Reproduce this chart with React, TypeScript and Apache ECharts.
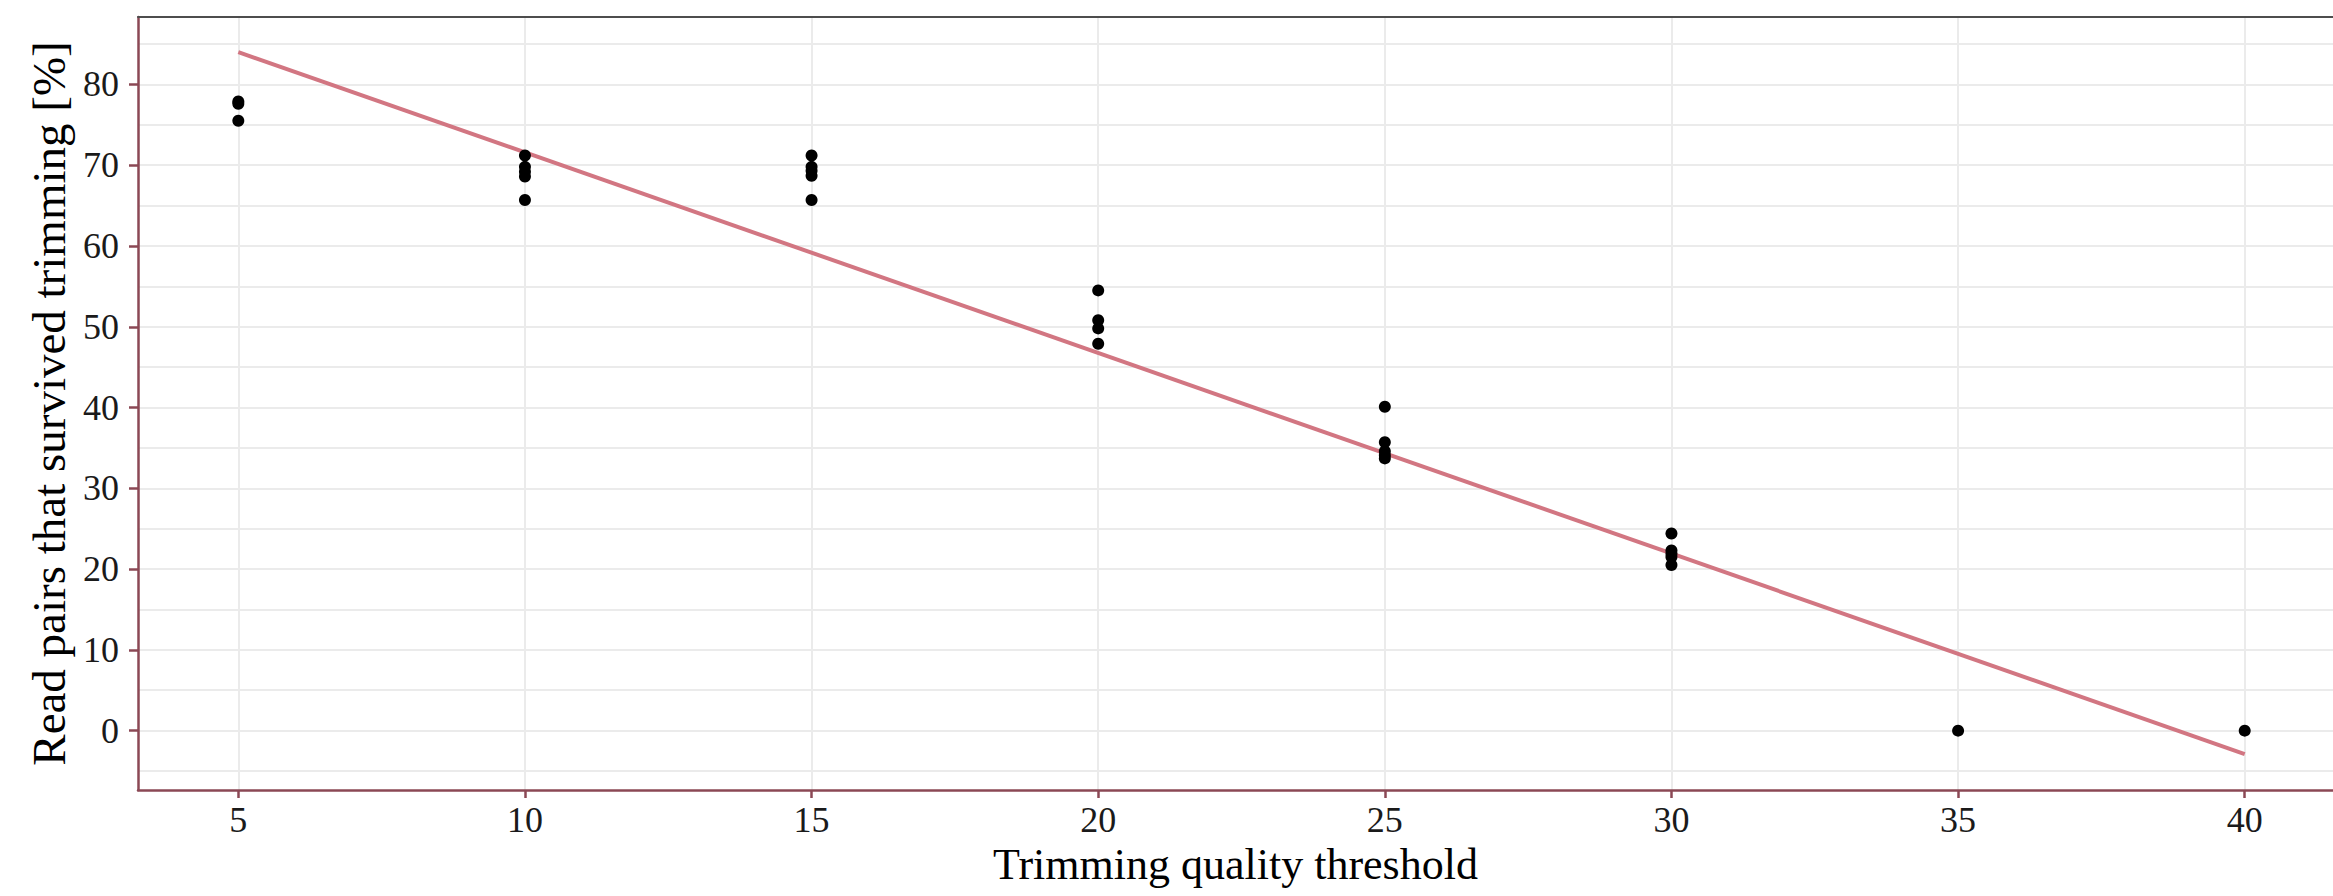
import React, { useEffect, useRef } from "react";
import * as echarts from "echarts";

// Tick labels / grid positions
const xTickValues = [5, 10, 15, 20, 25, 30, 35, 40];
const yTickValues = [0, 10, 20, 30, 40, 50, 60, 70, 80];
const yGridValues = [-5, 0, 5, 10, 15, 20, 25, 30, 35, 40, 45, 50, 55, 60, 65, 70, 75, 80, 85];

// Observed read pairs surviving trimming [%] per quality threshold
const thresholds = [5, 10, 15, 20, 25, 30, 35, 40];
const survivedQ5 = [77.9, 77.6, 75.5];
const survivedQ10 = [71.2, 69.8, 69.2, 68.6, 65.7];
const survivedQ15 = [71.2, 69.8, 69.3, 68.7, 65.7];
const survivedQ20 = [54.5, 50.8, 49.8, 47.9];
const survivedQ25 = [40.1, 35.7, 34.6, 34.1, 33.7];
const survivedQ30 = [24.4, 22.3, 21.9, 21.5, 20.5];
const survivedQ35 = [0];
const survivedQ40 = [0];
const survivedByThreshold = [
  survivedQ5,
  survivedQ10,
  survivedQ15,
  survivedQ20,
  survivedQ25,
  survivedQ30,
  survivedQ35,
  survivedQ40,
];

// Linear fit line end points
const fitX = [5, 40];
const fitY = [84.0, -2.9];

const FONT = "'Liberation Serif', 'Times New Roman', serif";
const AXIS_RED = "#8b4855";
const X_MIN = 3.25;
const X_MAX = 41.54;
const Y_MIN = -7.35;
const Y_MAX = 88.35;

export default function App() {
  const ref = useRef<HTMLDivElement>(null);

  useEffect(() => {
    if (!ref.current) return;
    const chart = echarts.init(ref.current, undefined, { renderer: "svg" });

    const points: number[][] = [];
    thresholds.forEach((t, i) => {
      survivedByThreshold[i].forEach((v) => points.push([t, v]));
    });
    const fitData = fitX.map((x, i) => [x, fitY[i]]);

    chart.setOption({
      animation: false,
      backgroundColor: "#ffffff",
      grid: {
        left: 138,
        top: 17,
        right: 0,
        bottom: 106,
        show: false,
      },
      xAxis: [
        {
          type: "value",
          position: "bottom",
          min: X_MIN,
          max: X_MAX,
          axisLine: { show: true, onZero: false, lineStyle: { color: AXIS_RED, width: 2.5 } },
          axisTick: {
            show: true,
            length: 8,
            customValues: xTickValues,
            lineStyle: { color: AXIS_RED, width: 2.5 },
          },
          axisLabel: {
            customValues: xTickValues,
            fontFamily: FONT,
            fontSize: 36,
            color: "#1a1a1a",
            margin: 12,
          },
          splitLine: { show: true, lineStyle: { color: "#ebebeb", width: 2 } },
          name: "Trimming quality threshold",
          nameLocation: "middle",
          nameGap: 50,
          nameTextStyle: { fontFamily: FONT, fontSize: 44, color: "#000000" },
        },
        {
          type: "value",
          position: "top",
          min: X_MIN,
          max: X_MAX,
          axisLine: { show: true, onZero: false, lineStyle: { color: "#4d4d4d", width: 2 } },
          axisTick: { show: false },
          axisLabel: { show: false },
          splitLine: { show: false },
        },
      ],
      yAxis: [
        {
          type: "value",
          position: "left",
          min: Y_MIN,
          max: Y_MAX,
          axisLine: { show: true, onZero: false, lineStyle: { color: AXIS_RED, width: 2.5 } },
          axisTick: { show: false, customValues: yGridValues },
          axisLabel: {
            customValues: yTickValues,
            fontFamily: FONT,
            fontSize: 36,
            color: "#1a1a1a",
            margin: 19,
          },
          splitLine: { show: true, lineStyle: { color: "#ebebeb", width: 2 } },
          name: "Read pairs that survived trimming [%]",
          nameLocation: "middle",
          nameGap: 58,
          nameTextStyle: { fontFamily: FONT, fontSize: 47, color: "#000000" },
        },
        {
          type: "value",
          position: "left",
          min: Y_MIN,
          max: Y_MAX,
          axisLine: { show: false },
          axisTick: {
            show: true,
            length: 9,
            customValues: yTickValues,
            lineStyle: { color: AXIS_RED, width: 2.5 },
          },
          axisLabel: { show: false },
          splitLine: { show: false },
        },
      ],
      series: [
        {
          type: "line",
          data: fitData,
          xAxisIndex: 0,
          yAxisIndex: 0,
          showSymbol: false,
          symbol: "none",
          lineStyle: { color: "#d27682", width: 4 },
          z: 2,
        },
        {
          type: "scatter",
          data: points,
          xAxisIndex: 0,
          yAxisIndex: 0,
          symbolSize: 12,
          itemStyle: { color: "#000000", opacity: 1 },
          z: 3,
        },
      ],
    });

    return () => chart.dispose();
  }, []);

  return (
    <div
      ref={ref}
      style={{ position: "absolute", left: 0, top: 0, width: 2333, height: 896, background: "#fff" }}
    />
  );
}
